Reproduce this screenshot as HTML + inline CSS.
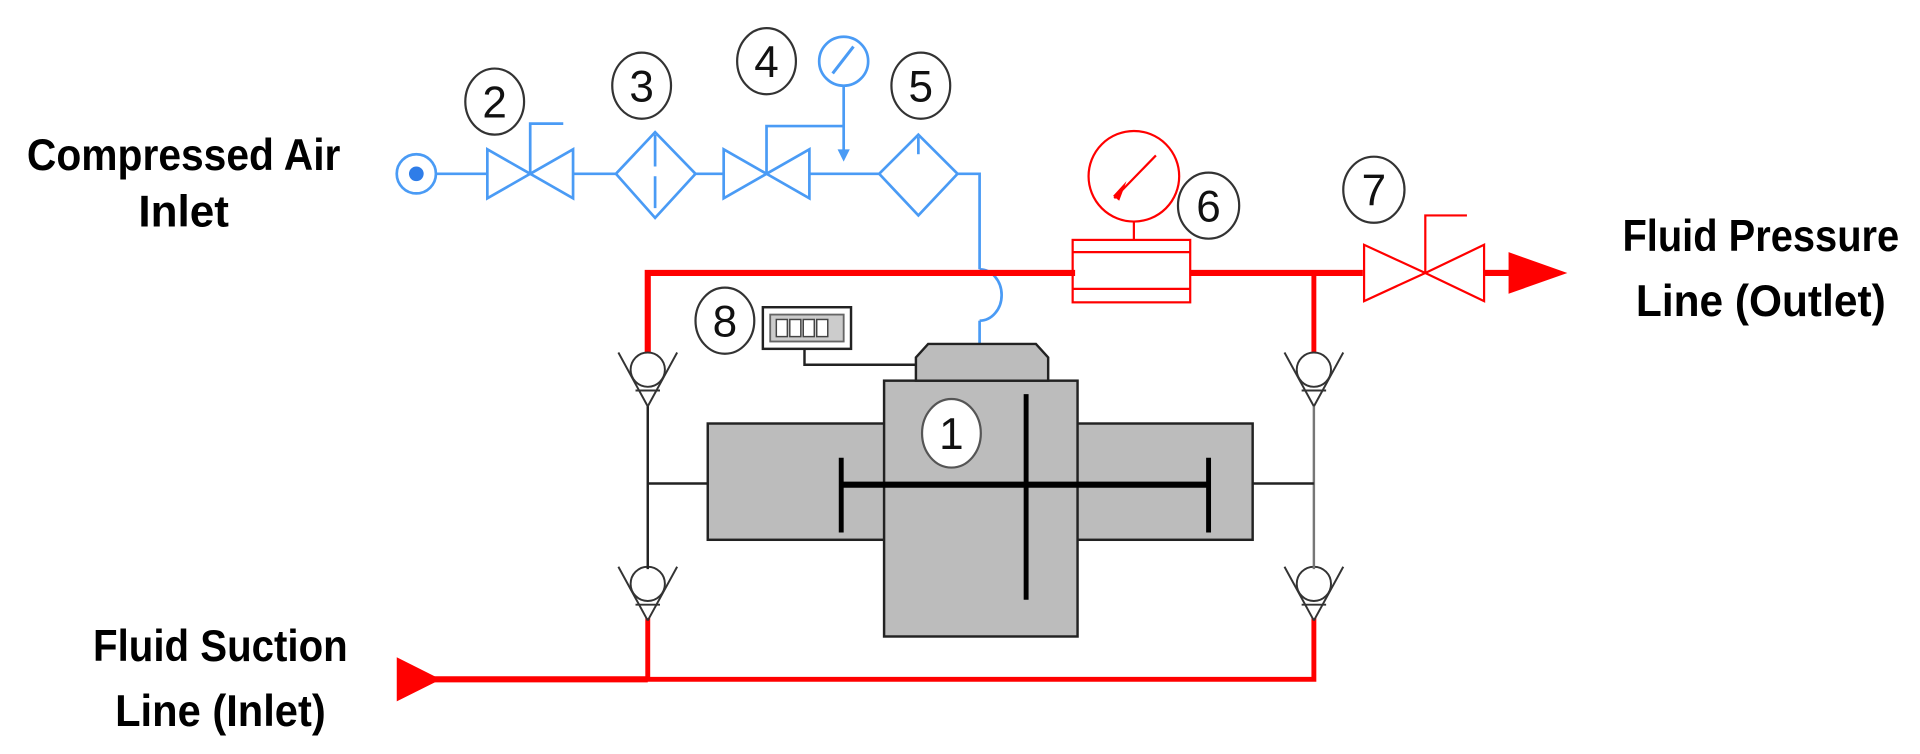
<!DOCTYPE html>
<html><head><meta charset="utf-8"><style>
html,body{margin:0;padding:0;background:#fff;width:1920px;height:754px;overflow:hidden}
svg{display:block}
</style></head><body>
<svg width="1920" height="754" viewBox="0 0 1568 616" preserveAspectRatio="none" xmlns="http://www.w3.org/2000/svg">
<defs>
<g id="cv" fill="none" stroke="#333" stroke-width="1.6">
<line x1="-24" y1="0" x2="0" y2="44"/><line x1="24" y1="0" x2="0" y2="44"/>
<circle cx="0" cy="14" r="14" fill="#fff"/>
<line x1="-10" y1="31" x2="10" y2="31"/>
</g>
</defs>
<g font-family="Liberation Sans, sans-serif" font-weight="bold" fill="#000" font-size="36" text-anchor="middle">
<text x="150" y="139" textLength="256" lengthAdjust="spacingAndGlyphs">Compressed Air</text>
<text x="150" y="185" textLength="74" lengthAdjust="spacingAndGlyphs">Inlet</text>
<text x="1438" y="205" textLength="226" lengthAdjust="spacingAndGlyphs">Fluid Pressure</text>
<text x="1438" y="258" textLength="204" lengthAdjust="spacingAndGlyphs">Line (Outlet)</text>
<text x="180" y="540" textLength="208" lengthAdjust="spacingAndGlyphs">Fluid Suction</text>
<text x="180" y="593" textLength="172" lengthAdjust="spacingAndGlyphs">Line (Inlet)</text>
</g>
<!-- blue air line -->
<g fill="none" stroke="#4a9bf5" stroke-width="2.2">
<circle cx="340" cy="142" r="16"/>
<line x1="356" y1="142" x2="398" y2="142"/>
<polygon points="398,122 398,162 433,142"/><polygon points="468,122 468,162 433,142"/>
<polyline points="433,142 433,101 460,101"/>
<line x1="468" y1="142" x2="503" y2="142"/>
<polygon points="535,108 568,142 535,178 503,142"/>
<line x1="535" y1="110" x2="535" y2="176" stroke-dasharray="26,8"/>
<line x1="568" y1="142" x2="591" y2="142"/>
<polygon points="591,122 591,162 626,142"/><polygon points="661,122 661,162 626,142"/>
<polyline points="626,142 626,103 689,103"/>
<line x1="689" y1="70" x2="689" y2="126"/>
<circle cx="689" cy="50" r="20"/>
<line x1="680" y1="60" x2="697" y2="38" stroke-width="2.5"/>
<line x1="661" y1="142" x2="718" y2="142"/>
<polygon points="750,110 782,142 750,176 718,142"/>
<line x1="750" y1="112" x2="750" y2="126"/>
<polyline points="782,142 800,142 800,220"/>
<path d="M800,220 A18,21 0 0 1 800,262"/>
<line x1="800" y1="262" x2="800" y2="300"/>
</g>
<polygon points="684,122 694,122 689,132" fill="#4a9bf5"/>
<circle cx="340" cy="142" r="6" fill="#2f7de8"/>
<!-- red lines -->
<g fill="none" stroke="#f00">
<polyline points="529,292 529,223 878,223" stroke-width="5"/>
<line x1="972" y1="223" x2="1113" y2="223" stroke-width="5"/>
<line x1="1073" y1="223" x2="1073" y2="292" stroke-width="4"/>
<line x1="1212" y1="223" x2="1240" y2="223" stroke-width="5"/>
<polyline points="529,505 529,555 1073,555 1073,505" stroke-width="4"/>
<line x1="340" y1="555" x2="529" y2="555" stroke-width="5"/>
<g stroke-width="1.8">
<circle cx="926" cy="144" r="37"/>
<line x1="910" y1="162" x2="944" y2="127"/>
<line x1="926" y1="181" x2="926" y2="196"/>
<rect x="876" y="196" width="96" height="51"/>
<line x1="876" y1="206" x2="972" y2="206"/><line x1="876" y1="236" x2="972" y2="236"/>
<polygon points="1114,200 1114,246 1164,223"/><polygon points="1212,200 1212,246 1164,223"/>
<polyline points="1164,223 1164,176 1198,176"/>
</g>
</g>
<polygon points="909,160 920,148 914,164" fill="#f00"/>
<polygon points="1232,206 1232,240 1280,223" fill="#f00"/>
<polygon points="324,537 324,573 360,555" fill="#f00"/>
<!-- check valves -->
<use href="#cv" x="529" y="288"/>
<use href="#cv" x="1073" y="288"/>
<use href="#cv" x="529" y="463"/>
<use href="#cv" x="1073" y="463"/>
<g stroke="#222" stroke-width="2" fill="none">
<line x1="529" y1="332" x2="529" y2="465"/>
<line x1="1073" y1="332" x2="1073" y2="465" stroke="#777"/>
<line x1="529" y1="395" x2="578" y2="395"/>
<line x1="1023" y1="395" x2="1073" y2="395"/>
</g>
<!-- pump -->
<g fill="#bcbcbc" stroke="#222" stroke-width="2">
<rect x="578" y="346" width="445" height="95"/>
<rect x="722" y="311" width="158" height="209"/>
<path d="M748,311 L748,292 L758,281 L846,281 L856,292 L856,311 Z"/>
</g>
<g stroke="#000" stroke-width="4">
<line x1="687" y1="374" x2="687" y2="435"/>
<line x1="987" y1="374" x2="987" y2="435"/>
<line x1="838" y1="322" x2="838" y2="490"/>
<line x1="687" y1="396" x2="987" y2="396" stroke-width="5"/>
</g>
<!-- 8 display -->
<rect x="623" y="251" width="72" height="34" fill="#fff" stroke="#222" stroke-width="2"/>
<rect x="629" y="257" width="60" height="22" fill="#ccc" stroke="#666" stroke-width="1.5"/>
<g fill="#fff" stroke="#444" stroke-width="1.2">
<rect x="634" y="261" width="9" height="14"/><rect x="645" y="261" width="9" height="14"/><rect x="656" y="261" width="9" height="14"/><rect x="667" y="261" width="9" height="14"/>
</g>
<polyline points="657,285 657,298 748,298" fill="none" stroke="#222" stroke-width="2"/>
<!-- numbered circles -->
<g fill="#fff" stroke="#333" stroke-width="1.8">
<ellipse cx="404" cy="83" rx="24" ry="27"/>
<ellipse cx="524" cy="70" rx="24" ry="27"/>
<ellipse cx="626" cy="50" rx="24" ry="27"/>
<ellipse cx="752" cy="70" rx="24" ry="27"/>
<ellipse cx="987" cy="168" rx="25" ry="27"/>
<ellipse cx="1122" cy="155" rx="25" ry="27"/>
<ellipse cx="592" cy="262" rx="24" ry="27"/>
<ellipse cx="777" cy="354" rx="24" ry="28" stroke="#555"/>
</g>
<g font-family="Liberation Sans, sans-serif" font-size="36" fill="#111" text-anchor="middle">
<text x="404" y="96">2</text>
<text x="524" y="83">3</text>
<text x="626" y="63">4</text>
<text x="752" y="83">5</text>
<text x="987" y="181">6</text>
<text x="1122" y="168">7</text>
<text x="592" y="275">8</text>
<text x="777" y="367">1</text>
</g>
</svg>
</body></html>
